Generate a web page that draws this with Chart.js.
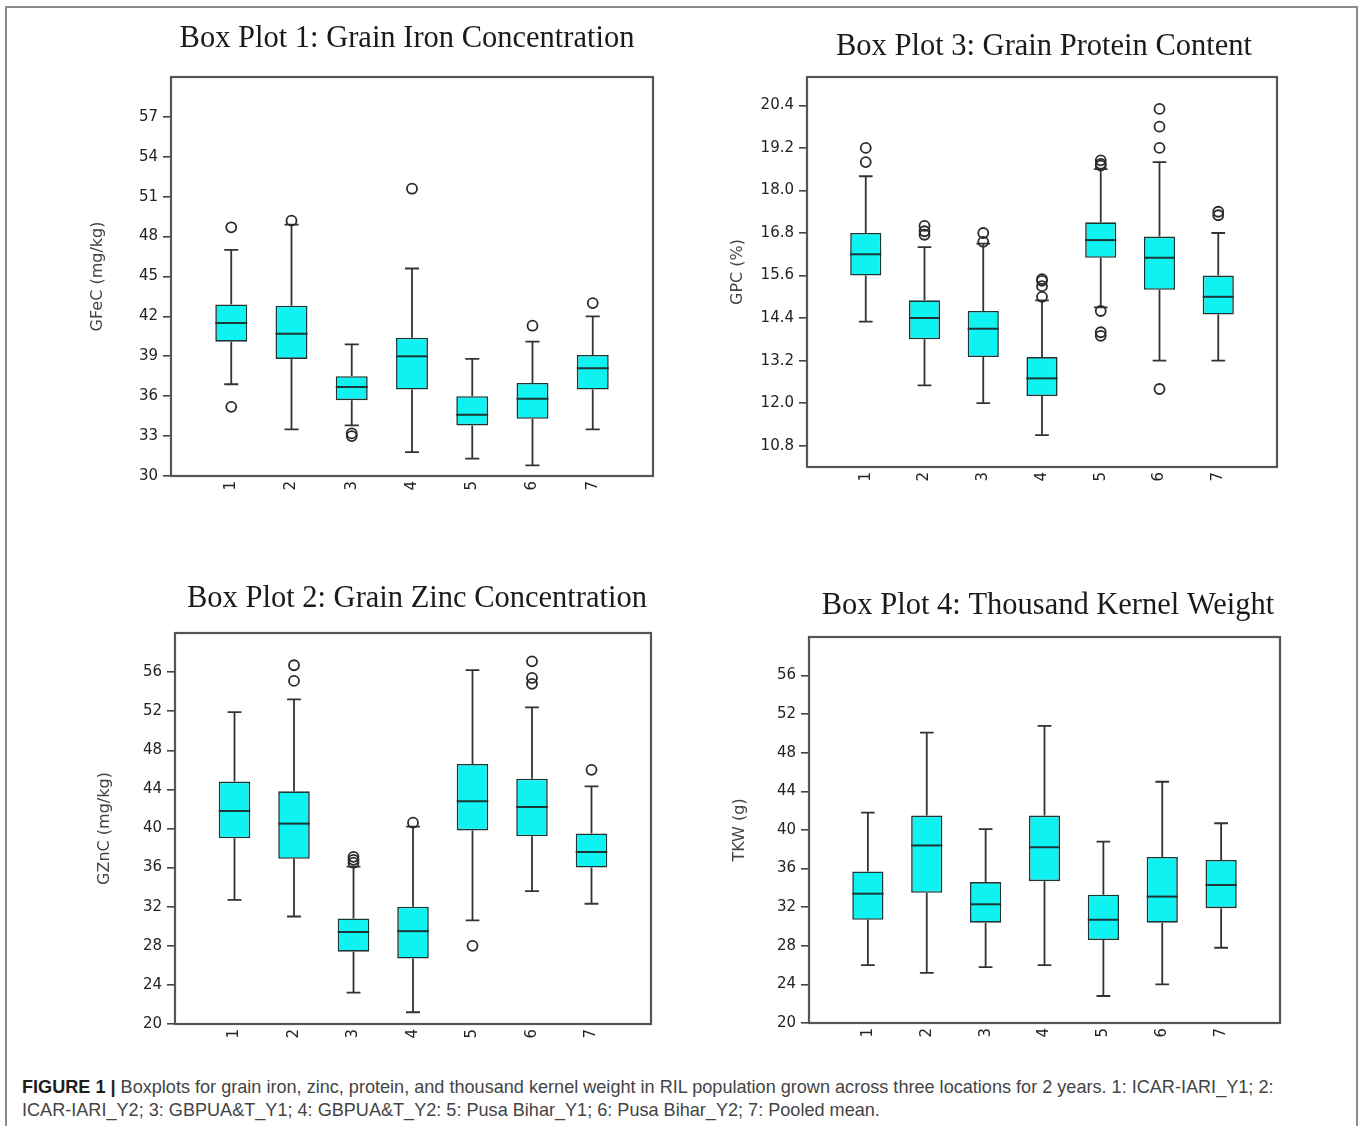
<!DOCTYPE html>
<html>
<head>
<meta charset="utf-8">
<script src="https://cdn.jsdelivr.net/npm/chart.js@4.4.0/dist/chart.umd.min.js"></script>
<style>
  body { margin: 0; background: #fff; width: 1358px; height: 1126px; overflow: hidden; position: relative; }
  #frame { position: absolute; left: 5px; top: 6px; width: 1349px; height: 1200px; border: 2px solid #8c8c8c; border-bottom: none; }
  canvas { position: absolute; }
  .caption { position: absolute; left: 22px; top: 1076px; font-family: 'Liberation Sans Narrow', 'Liberation Sans', sans-serif; font-size: 18.1px; line-height: 23px; color: #444; white-space: nowrap; }
  .caption b { color: #1e1e1e; }
</style>
</head>
<body>
<div id="frame"></div>
<canvas id="iron" width="660" height="530" style="left:77px;top:10px"></canvas>
<canvas id="protein" width="638" height="530" style="left:725px;top:10px"></canvas>
<canvas id="zinc" width="660" height="500" style="left:87px;top:560px"></canvas>
<canvas id="tkw" width="636" height="500" style="left:730px;top:560px"></canvas>
<div class="caption"><b>FIGURE 1 |</b> Boxplots for grain iron, zinc, protein, and thousand kernel weight in RIL population grown across three locations for 2 years. 1: ICAR-IARI_Y1; 2:<br>ICAR-IARI_Y2; 3: GBPUA&amp;T_Y1; 4: GBPUA&amp;T_Y2: 5: Pusa Bihar_Y1; 6: Pusa Bihar_Y2; 7: Pooled mean.</div>
<script>
// groups on the x axis (1..7 = location/year, 7 = pooled mean)
const groups = ['1', '2', '3', '4', '5', '6', '7'];

// Box Plot 1: grain iron (mg/kg)
const ironTicks = [30, 33, 36, 39, 42, 45, 48, 51, 54, 57];
const ironLow = [36.9, 33.5, 33.8, 31.8, 31.3, 30.8, 33.5];
const ironQ1 = [40.1, 38.8, 35.7, 36.5, 33.8, 34.3, 36.5];
const ironMedian = [41.5, 40.7, 36.7, 39.0, 34.6, 35.8, 38.1];
const ironQ3 = [42.9, 42.8, 37.5, 40.4, 36.0, 37.0, 39.1];
const ironHigh = [47.0, 48.9, 39.9, 45.6, 38.8, 40.1, 42.0];
const ironOutliers = [[1, 48.7], [1, 35.2], [2, 49.2], [3, 33.2], [3, 33.0], [4, 51.6], [6, 41.3], [7, 43.0]];

// Box Plot 3: grain protein (%)
const proteinTicks = [10.8, 12.0, 13.2, 14.4, 15.6, 16.8, 18.0, 19.2, 20.4];
const proteinLow = [14.3, 12.5, 12.0, 11.1, 14.7, 13.2, 13.2];
const proteinQ1 = [15.6, 13.8, 13.3, 12.2, 16.1, 15.2, 14.5];
const proteinMedian = [16.2, 14.4, 14.1, 12.7, 16.6, 16.1, 15.0];
const proteinQ3 = [16.8, 14.9, 14.6, 13.3, 17.1, 16.7, 15.6];
const proteinHigh = [18.4, 16.4, 16.5, 14.9, 18.6, 18.8, 16.8];
const proteinOutliers = [[1, 19.2], [1, 18.8], [2, 17.0], [2, 16.85], [2, 16.75], [3, 16.8], [3, 16.55],
  [4, 15.5], [4, 15.45], [4, 15.3], [4, 15.0], [5, 18.85], [5, 18.75], [5, 18.7], [5, 14.6], [5, 14.0], [5, 13.9],
  [6, 20.3], [6, 19.8], [6, 19.2], [6, 12.4], [7, 17.4], [7, 17.3]];

// Box Plot 2: grain zinc (mg/kg)
const zincTicks = [20, 24, 28, 32, 36, 40, 44, 48, 52, 56];
const zincLow = [32.7, 31.0, 23.2, 21.2, 30.6, 33.6, 32.3];
const zincQ1 = [39.0, 36.9, 27.4, 26.7, 39.8, 39.2, 36.0];
const zincMedian = [41.8, 40.5, 29.4, 29.5, 42.8, 42.2, 37.6];
const zincQ3 = [44.8, 43.8, 30.8, 32.0, 46.6, 45.1, 39.5];
const zincHigh = [51.9, 53.2, 36.1, 40.2, 56.2, 52.4, 44.3];
const zincOutliers = [[2, 56.7], [2, 55.1], [3, 37.1], [3, 36.8], [3, 36.5], [4, 40.6], [5, 28.0], [6, 57.1], [6, 55.4], [6, 54.8], [7, 46.0]];

// Box Plot 4: thousand kernel weight (g)
const tkwTicks = [20, 24, 28, 32, 36, 40, 44, 48, 52, 56];
const tkwLow = [26.0, 25.2, 25.8, 26.0, 22.8, 24.0, 27.8];
const tkwQ1 = [30.7, 33.5, 30.4, 34.7, 28.6, 30.4, 31.9];
const tkwMedian = [33.4, 38.4, 32.3, 38.2, 30.7, 33.1, 34.3];
const tkwQ3 = [35.7, 41.5, 34.6, 41.5, 33.3, 37.2, 36.9];
const tkwHigh = [41.8, 50.1, 40.1, 50.8, 38.8, 45.0, 40.7];
const tkwOutliers = [];

const tickFont = { family: 'DejaVu Sans', size: 15 };

// whiskers, caps, medians and the frame round the plot area
function boxPlugin(s) {
  return {
    id: 'boxParts',
    beforeDatasetsDraw(chart) {
      const { ctx, scales: { x, y } } = chart;
      const bars = chart.getDatasetMeta(0).data;
      ctx.save();
      ctx.strokeStyle = '#333';
      ctx.lineWidth = 1.8;
      s.low.forEach((lo, i) => {
        const cx = x.getPixelForValue(i + 1);
        const half = bars[i].width * 0.22;
        const yLo = y.getPixelForValue(lo), yHi = y.getPixelForValue(s.high[i]);
        ctx.beginPath();
        ctx.moveTo(cx, y.getPixelForValue(s.q1[i])); ctx.lineTo(cx, yLo);
        ctx.moveTo(cx, y.getPixelForValue(s.q3[i])); ctx.lineTo(cx, yHi);
        ctx.moveTo(cx - half, yLo); ctx.lineTo(cx + half, yLo);
        ctx.moveTo(cx - half, yHi); ctx.lineTo(cx + half, yHi);
        ctx.stroke();
      });
      ctx.restore();
    },
    afterDatasetsDraw(chart) {
      const { ctx, chartArea: a, scales: { x, y } } = chart;
      const bars = chart.getDatasetMeta(0).data;
      ctx.save();
      ctx.strokeStyle = '#1d3535';
      ctx.lineWidth = 2;
      s.median.forEach((m, i) => {
        const cx = x.getPixelForValue(i + 1), half = bars[i].width / 2;
        const my = y.getPixelForValue(m);
        ctx.beginPath(); ctx.moveTo(cx - half, my); ctx.lineTo(cx + half, my); ctx.stroke();
      });
      ctx.strokeStyle = '#555';
      ctx.lineWidth = 2.2;
      ctx.strokeRect(a.left, a.top, a.right - a.left, a.bottom - a.top);
      ctx.restore();
    }
  };
}

function drawBoxPlot(id, s) {
  new Chart(document.getElementById(id), {
    type: 'bar',
    data: {
      datasets: [{
        type: 'bar',
        data: groups.map((g, i) => ({ x: i + 1, y: [s.q1[i], s.q3[i]] })),
        backgroundColor: '#0ef2f2',
        borderColor: '#1d3535',
        borderWidth: 1.6,
        borderSkipped: false,
        grouped: false,
        barPercentage: 0.53,
        categoryPercentage: 1
      }, {
        type: 'scatter',
        data: s.outliers.map(([g, v]) => ({ x: g, y: v })),
        pointStyle: 'circle',
        radius: 5,
        borderWidth: 1.8,
        borderColor: '#2b2b2b',
        backgroundColor: 'rgba(255,255,255,0)'
      }]
    },
    options: {
      responsive: false,
      animation: false,
      events: [],
      layout: { padding: 0 },
      plugins: {
        legend: { display: false },
        tooltip: { enabled: false },
        title: {
          display: true,
          text: s.title,
          color: '#1a1a1a',
          font: { family: 'Liberation Serif', size: 30.5, weight: 'normal' },
          padding: s.titlePad
        }
      },
      scales: {
        x: {
          type: 'linear', min: 0, max: 8, offset: false,
          afterBuildTicks: sc => { sc.ticks = groups.map((g, i) => ({ value: i + 1 })); },
          afterFit: sc => { sc.height = s.xHeight; },
          border: { display: false },
          grid: { display: false, drawTicks: false, offset: false },
          ticks: { minRotation: 90, maxRotation: 90, autoSkip: false, padding: 5, color: '#222', font: tickFont,
            callback: v => groups[v - 1] }
        },
        y: {
          min: s.min, max: s.max,
          afterBuildTicks: sc => { sc.ticks = s.ticks.map(v => ({ value: v })); },
          afterFit: sc => { sc.width = s.yWidth; },
          border: { display: false },
          grid: { drawOnChartArea: false, drawTicks: true, tickLength: 8, color: '#444', lineWidth: 1.6 },
          ticks: { padding: 5, color: '#222', font: tickFont, callback: v => v.toFixed(s.decimals) },
          title: { display: true, text: s.yTitle, color: '#444', font: { family: 'DejaVu Sans', size: 16 },
            padding: { top: s.yTitlePad, bottom: 0 } }
        },
        pad: {
          type: 'linear', position: 'right', display: true,
          grid: { display: false }, border: { display: false }, ticks: { display: false },
          afterFit: sc => { sc.width = s.rightPad; }
        }
      }
    },
    plugins: [boxPlugin(s)]
  });
}

drawBoxPlot('iron', {
  title: 'Box Plot 1: Grain Iron Concentration', yTitle: 'GFeC (mg/kg)',
  min: 30, max: 60, ticks: ironTicks, decimals: 0,
  low: ironLow, q1: ironQ1, median: ironMedian, q3: ironQ3, high: ironHigh, outliers: ironOutliers,
  titlePad: { top: 10.7, bottom: 19.7 }, yWidth: 94, yTitlePad: 11.4, xHeight: 64, rightPad: 84
});
drawBoxPlot('protein', {
  title: 'Box Plot 3: Grain Protein Content', yTitle: 'GPC (%)',
  min: 10.2, max: 21.2, ticks: proteinTicks, decimals: 1,
  low: proteinLow, q1: proteinQ1, median: proteinMedian, q3: proteinQ3, high: proteinHigh, outliers: proteinOutliers,
  titlePad: { top: 18.7, bottom: 11.7 }, yWidth: 82, yTitlePad: 3.4, xHeight: 73, rightPad: 86
});
drawBoxPlot('zinc', {
  title: 'Box Plot 2: Grain Zinc Concentration', yTitle: 'GZnC (mg/kg)',
  min: 20, max: 60, ticks: zincTicks, decimals: 0,
  low: zincLow, q1: zincQ1, median: zincMedian, q3: zincQ3, high: zincHigh, outliers: zincOutliers,
  titlePad: { top: 20.7, bottom: 15.7 }, yWidth: 88, yTitlePad: 8.4, xHeight: 36, rightPad: 96
});
drawBoxPlot('tkw', {
  title: 'Box Plot 4: Thousand Kernel Weight', yTitle: 'TKW (g)',
  min: 20, max: 60, ticks: tkwTicks, decimals: 0,
  low: tkwLow, q1: tkwQ1, median: tkwMedian, q3: tkwQ3, high: tkwHigh, outliers: tkwOutliers,
  titlePad: { top: 27.7, bottom: 12.7 }, yWidth: 79, yTitlePad: 0.4, xHeight: 37, rightPad: 86
});
</script>
</body>
</html>
